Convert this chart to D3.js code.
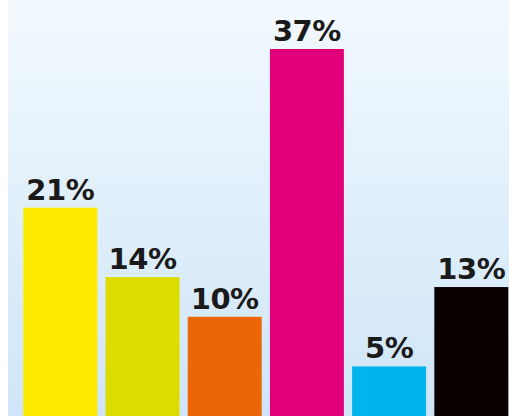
<!DOCTYPE html>
<html>
<head>
<meta charset="utf-8">
<script src="https://cdn.jsdelivr.net/npm/d3@7"></script>
<style>
  html, body { margin: 0; padding: 0; background: #ffffff; }
  svg { display: block; }
</style>
</head>
<body>
<svg id="chart" width="509" height="416"></svg>
<script>
const categories = ["A", "B", "C", "D", "E", "F"];
const values = [21, 14, 10, 37, 5, 13];
const labels = ["21%", "14%", "10%", "37%", "5%", "13%"];
const colors = ["#ffeb00", "#dcdc00", "#ec6608", "#e2007a", "#00b5eb", "#0a0000"];

const W = 509, H = 416;
const svg = d3.select("#chart");

const defs = svg.append("defs");
const grad = defs.append("linearGradient")
  .attr("id", "bg").attr("x1", 0).attr("y1", 0).attr("x2", 0).attr("y2", 1);
grad.append("stop").attr("offset", "0%").attr("stop-color", "#f2f9fe");
grad.append("stop").attr("offset", "100%").attr("stop-color", "#cfe5f7");

svg.append("rect").attr("x", 8).attr("y", 0).attr("width", W - 8).attr("height", H)
  .attr("fill", "url(#bg)");

const x = d3.scaleBand()
  .domain(categories)
  .range([19.2, 512.4])
  .paddingInner(0.1)
  .paddingOuter(0.05);

const y = d3.scaleLinear()
  .domain([0, 37])
  .range([416, 49]);

svg.selectAll("rect.bar")
  .data(values)
  .join("rect")
  .attr("class", "bar")
  .attr("x", (d, i) => x(categories[i]))
  .attr("width", x.bandwidth())
  .attr("y", d => y(d))
  .attr("height", d => y(0) - y(d))
  .attr("fill", (d, i) => colors[i]);

svg.selectAll("text.lbl")
  .data(values)
  .join("text")
  .attr("class", "lbl")
  .attr("x", (d, i) => x(categories[i]) + x.bandwidth() / 2)
  .attr("y", d => y(d) - 8)
  .attr("text-anchor", "middle")
  .attr("font-family", "DejaVu Sans")
  .attr("font-weight", "bold")
  .attr("font-size", 29)
  .attr("letter-spacing", -0.5)
  .attr("fill", "#1a1a1a")
  .text((d, i) => labels[i]);
</script>
</body>
</html>
